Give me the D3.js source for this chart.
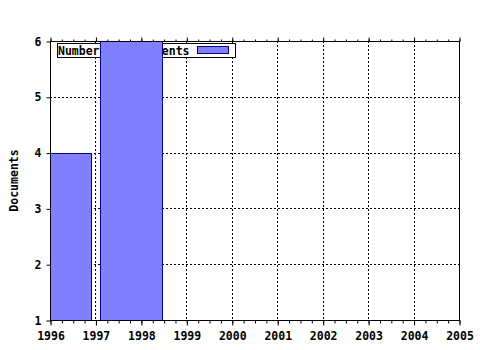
<!DOCTYPE html>
<html>
<head>
<meta charset="utf-8">
<script src="https://cdn.jsdelivr.net/npm/d3@7"></script>
<style>
  body { margin: 0; background: #fff; }
  text { font-family: "DejaVu Sans Mono", monospace; font-weight: bold; font-size: 11.5px; fill: #000; }
</style>
</head>
<body>
<div id="chart"></div>
<script>
// data
var yearTicks = [1996, 1997, 1998, 1999, 2000, 2001, 2002, 2003, 2004, 2005];
var docTicks = [1, 2, 3, 4, 5, 6];
var barStart = [1996, 1997.1];
var barEnd = [1996.9, 1998.46];
var docCounts = [4, 6];
var seriesName = "Number of Documents";
var yTitle = "Documents";

var width = 480, height = 350;
var margin = { top: 41, right: 21, bottom: 30, left: 50 };

var svg = d3.select("#chart")
  .append("svg")
  .attr("width", width)
  .attr("height", height);

var xScale = d3.scaleLinear()
  .domain([1996, 2005])
  .range([margin.left, width - margin.right]);

var yScale = d3.scaleLinear()
  .domain([1, 6])
  .range([height - margin.bottom, margin.top]);

var minorTicks = d3.range(1996, 2005.001, 0.25);

// grid
svg.append("g")
  .selectAll("line")
  .data(yearTicks.slice(1, -1))
  .enter()
  .append("line")
  .attr("x1", d => Math.round(xScale(d)) + 0.5)
  .attr("x2", d => Math.round(xScale(d)) + 0.5)
  .attr("y1", margin.top)
  .attr("y2", height - margin.bottom)
  .attr("stroke", "#000")
  .attr("stroke-dasharray", "2,2");

svg.append("g")
  .selectAll("line")
  .data(docTicks.slice(1, -1))
  .enter()
  .append("line")
  .attr("x1", margin.left)
  .attr("x2", width - margin.right)
  .attr("y1", d => Math.round(yScale(d)) + 0.5)
  .attr("y2", d => Math.round(yScale(d)) + 0.5)
  .attr("stroke", "#000")
  .attr("stroke-dasharray", "2,2");

// legend (the bars are drawn over it)
var legend = svg.append("g");
legend.append("rect")
  .attr("x", 57.5).attr("y", 43.5)
  .attr("width", 178).attr("height", 14)
  .attr("fill", "#fff").attr("stroke", "#000");
legend.append("text")
  .attr("x", 58).attr("y", 55)
  .text(seriesName);
legend.append("rect")
  .attr("x", 197.5).attr("y", 46.5)
  .attr("width", 31).attr("height", 7)
  .attr("fill", "#8080ff").attr("stroke", "#000080");

// bars
svg.selectAll("bars")
  .data(docCounts)
  .enter()
  .append("rect")
  .attr("x", (d, i) => Math.round(xScale(barStart[i])) + 0.5)
  .attr("y", d => Math.round(yScale(d)) + 0.5)
  .attr("width", (d, i) => Math.round(xScale(barEnd[i])) - Math.round(xScale(barStart[i])))
  .attr("height", d => yScale(1) - Math.round(yScale(d)))
  .attr("fill", "#8080ff")
  .attr("stroke", "#000080");

// frame
svg.append("rect")
  .attr("x", margin.left + 0.5).attr("y", margin.top + 0.5)
  .attr("width", width - margin.left - margin.right)
  .attr("height", height - margin.top - margin.bottom)
  .attr("fill", "none").attr("stroke", "#000");

// X axis bottom
var xAxis = d3.axisBottom(xScale)
  .tickValues(yearTicks)
  .tickFormat(d3.format("d"))
  .tickSize(5)
  .tickPadding(6);

var xMinor = d3.axisBottom(xScale)
  .tickValues(minorTicks)
  .tickFormat("")
  .tickSize(3);

svg.append("g")
  .attr("transform", `translate(0.5, ${height - margin.bottom + 0.5})`)
  .call(xMinor)
  .call(g => g.select(".domain").remove());

svg.append("g")
  .attr("class", "x-axis")
  .attr("transform", `translate(0.5, ${height - margin.bottom + 0.5})`)
  .call(xAxis)
  .call(g => g.select(".domain").remove())
  .selectAll("text")
  .attr("font-size", "11.5px")
  .attr("font-family", "DejaVu Sans Mono")
  .attr("dy", "0.71em");

// X axis top (ticks only)
svg.append("g")
  .attr("transform", `translate(0.5, ${margin.top + 0.5})`)
  .call(d3.axisTop(xScale).tickValues(minorTicks).tickFormat("").tickSize(2))
  .call(g => g.select(".domain").remove());
svg.append("g")
  .attr("transform", `translate(0.5, ${margin.top + 0.5})`)
  .call(d3.axisTop(xScale).tickValues(yearTicks).tickFormat("").tickSize(4))
  .call(g => g.select(".domain").remove());

// Y axis
svg.append("g")
  .attr("class", "y-axis")
  .attr("transform", `translate(${margin.left + 0.5}, 0.5)`)
  .call(d3.axisLeft(yScale).tickValues(docTicks).tickFormat(d3.format("d")).tickSize(4).tickPadding(5))
  .call(g => g.select(".domain").remove())
  .selectAll("text")
  .attr("font-size", "11.5px")
  .attr("font-family", "DejaVu Sans Mono");

svg.selectAll(".tick line").attr("stroke", "#000");

svg.append("text")
  .attr("text-anchor", "middle")
  .attr("transform", `translate(18, ${(margin.top + height - margin.bottom) / 2}) rotate(-90)`)
  .text(yTitle);
</script>
</body>
</html>
